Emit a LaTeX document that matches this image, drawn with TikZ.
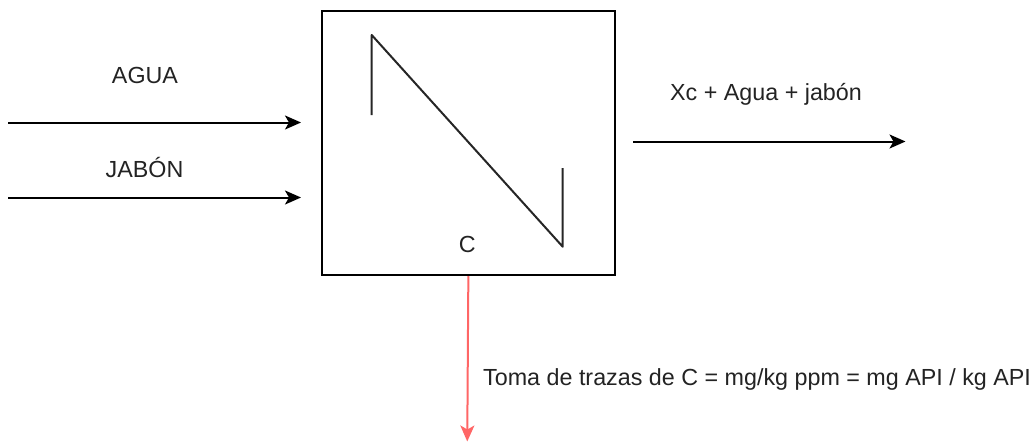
\documentclass[tikz,border=0pt]{standalone}
\usepackage{fontspec}
\setmainfont{Liberation Sans}
\usetikzlibrary{arrows.meta}
\definecolor{redline}{RGB}{255,102,102}
\definecolor{txt}{RGB}{35,35,35}
\begin{document}
\begin{tikzpicture}[x=1pt,y=-1pt,
  lbl/.style={inner sep=0pt, text=txt, font=\fontsize{23.3}{27}\selectfont},
  flow/.style={line width=2pt, -{Stealth[length=16pt,width=14pt,inset=4pt]}},
  redflow/.style={flow, draw=redline},
  unitbox/.style={draw, line width=2.2pt, inner sep=0pt, minimum width=292.5pt, minimum height=264.5pt},
  zline/.style={line width=2pt, draw=black!85, line join=round}]
\useasboundingbox (0,0) rectangle (1036,442);
% unit box
\node[unitbox, anchor=north west] (box) at (321,9.5) {};
% Z symbol
\draw[zline] (371.7,115) -- (371.7,35) -- (562.7,246.7) -- (562.7,168);
\node[lbl, anchor=base] (clbl) at (467.2,252) {C};
% inputs
\coordinate (aguaS) at (8,122.5);
\coordinate (aguaE) at (301,122.5);
\coordinate (jabonS) at (8,197.5);
\coordinate (jabonE) at (301,197.5);
\draw[flow] (aguaS) -- (aguaE);
\draw[flow] (jabonS) -- (jabonE);
\node[lbl, anchor=base] (agua) at (145,83) {AGUA};
\node[lbl, anchor=base] (jabon) at (144.5,177) {JABÓN};
% output
\coordinate (outS) at (633,141.5);
\coordinate (outE) at (905.5,141.5);
\draw[flow] (outS) -- (outE);
\node[lbl, anchor=base] (outlbl) at (766,100) {Xc + Agua + jabón};
% trace sampling
\coordinate (redE) at (467.25,441.5);
\draw[redflow] (box.south) -- (redE);
\node[lbl, anchor=base west] (toma) at (483,385) {Toma de trazas de C = mg/kg ppm = mg API / kg API};
\end{tikzpicture}
\end{document}
